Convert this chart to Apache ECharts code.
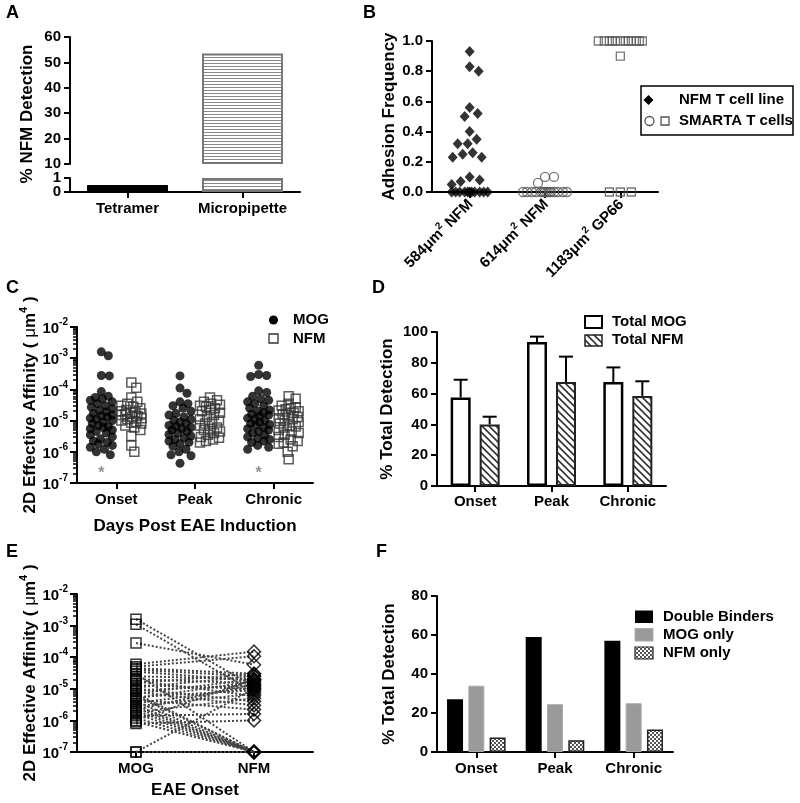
<!DOCTYPE html>
<html><head><meta charset="utf-8">
<script src="https://cdn.jsdelivr.net/npm/echarts@6/dist/echarts.min.js"></script>
<style>html,body{margin:0;padding:0;background:#fff}#c{width:800px;height:803px}</style>
</head><body><div id="c"></div>
<script>
// ---------------- DATA ----------------
const aCats = ['Tetramer', 'Micropipette'];
const aValues = [0.5, 53.5];

const bCats = ['584μm² NFM', '614μm² NFM', '1183μm² GP66'];
const bNFM584 = [0.93, 0.83, 0.80, 0.56, 0.52, 0.50, 0.40, 0.35, 0.32, 0.32, 0.26, 0.25, 0.23, 0.23, 0.10, 0.08, 0.07, 0.05, 0, 0, 0, 0, 0, 0, 0, 0, 0, 0, 0];
const bSmarta614 = [0.10, 0.10, 0.06, 0, 0, 0, 0, 0, 0, 0, 0, 0, 0, 0, 0, 0, 0];
const bSmartaGP66 = [1, 1, 1, 1, 1, 1, 1, 1, 1, 1, 1, 1, 0.9, 0, 0, 0];

const cCats = ['Onset', 'Peak', 'Chronic'];
const cMOGOnset = [1.6e-3, 1.2e-3, 2.8e-4, 2.7e-4, 8.5e-5, 6e-5, 5.5e-5, 5e-5, 4.5e-5, 4e-5, 3.5e-5, 3e-5, 2.7e-5, 2.4e-5, 2.1e-5, 1.9e-5, 1.7e-5, 1.5e-5, 1.4e-5, 1.3e-5, 1.2e-5, 1.1e-5, 1e-5, 9e-6, 8e-6, 7e-6, 6.5e-6, 6e-6, 5.5e-6, 5e-6, 4.5e-6, 4e-6, 3.5e-6, 3e-6, 2.6e-6, 2.2e-6, 2e-6, 1.8e-6, 1.6e-6, 1.4e-6, 1.2e-6, 1e-6, 8e-7];
const cNFMOnset = [1.66e-4, 1.12e-4, 5.5e-5, 4e-5, 3.5e-5, 3e-5, 2.8e-5, 2.5e-5, 2.2e-5, 2e-5, 1.9e-5, 1.8e-5, 1.7e-5, 1.6e-5, 1.5e-5, 1.4e-5, 1.3e-5, 1.2e-5, 1.1e-5, 1e-5, 9e-6, 8.5e-6, 8e-6, 7e-6, 6e-6, 5e-6, 3.2e-6, 1.6e-6, 1e-6];
const cMOGPeak = [2.7e-4, 1.1e-4, 7.5e-5, 4e-5, 3.5e-5, 3e-5, 2.5e-5, 2e-5, 1.7e-5, 1.5e-5, 1.3e-5, 1.1e-5, 1e-5, 9e-6, 8e-6, 7e-6, 6.5e-6, 6e-6, 5.5e-6, 5e-6, 4.5e-6, 4e-6, 3.6e-6, 3.2e-6, 2.8e-6, 2.5e-6, 2.2e-6, 2e-6, 1.8e-6, 1.5e-6, 1.2e-6, 1e-6, 8e-7, 7.5e-7, 4.3e-7];
const cNFMPeak = [5.5e-5, 4.5e-5, 4e-5, 3.5e-5, 3.2e-5, 3e-5, 2.8e-5, 2.5e-5, 2.2e-5, 2e-5, 1.8e-5, 1.5e-5, 1.3e-5, 1.1e-5, 1e-5, 9e-6, 8e-6, 7e-6, 6e-6, 5.5e-6, 5e-6, 4.5e-6, 4e-6, 3.5e-6, 3e-6, 2.8e-6, 2.5e-6, 2.2e-6, 2e-6];
const cMOGChronic = [5.9e-4, 3e-4, 2.8e-4, 2.6e-4, 9e-5, 8e-5, 6e-5, 5e-5, 4.5e-5, 4e-5, 3.5e-5, 3e-5, 2.5e-5, 2.2e-5, 2e-5, 1.8e-5, 1.6e-5, 1.5e-5, 1.4e-5, 1.2e-5, 1.1e-5, 1e-5, 9e-6, 8e-6, 7.5e-6, 7e-6, 6e-6, 5.5e-6, 5e-6, 4.5e-6, 4e-6, 3.5e-6, 3e-6, 2.7e-6, 2.5e-6, 2.2e-6, 2e-6, 1.6e-6, 1.4e-6, 1.2e-6];
const cNFMChronic = [6e-5, 5e-5, 3.5e-5, 3e-5, 2.7e-5, 2.5e-5, 2.3e-5, 2.1e-5, 2e-5, 1.8e-5, 1.6e-5, 1.5e-5, 1.3e-5, 1.2e-5, 1.1e-5, 1e-5, 9e-6, 8e-6, 7e-6, 6.5e-6, 6e-6, 5e-6, 4.5e-6, 4e-6, 3.5e-6, 3e-6, 2.5e-6, 2.2e-6, 2e-6, 1.8e-6, 1.5e-6, 1e-6, 5.8e-7];
const cStarCats = ['Onset', 'Chronic'];
const cStarLevel = 2e-7;

const dCats = ['Onset', 'Peak', 'Chronic'];
const dMOG = [57.5, 93.5, 67.5];
const dMOGErr = [11.5, 3.5, 9.5];
const dNFM = [40, 67.5, 58.5];
const dNFMErr = [5, 16.5, 9.5];

const eCats = ['MOG', 'NFM'];
const eMOG = [1.6e-3, 1.1e-3, 2.8e-4, 6e-5, 5e-5, 4.5e-5, 4e-5, 3.5e-5, 3e-5, 2.5e-5, 2e-5, 1.8e-5, 1.5e-5, 1.3e-5, 1.1e-5, 1e-5, 9e-6, 8e-6, 7e-6, 6e-6, 5.5e-6, 5e-6, 4.5e-6, 4e-6, 3.5e-6, 3e-6, 2.8e-6, 2.5e-6, 2.2e-6, 2e-6, 1.8e-6, 1.6e-6, 1.4e-6, 1.2e-6, 1e-6, 9e-7, 8e-7, 1e-7, 1e-7, 7e-6];
const eNFM = [1.2e-5, 8e-6, 5.8e-5, 1.5e-4, 1.07e-4, 3e-5, 2.5e-5, 1.8e-5, 1e-7, 2e-5, 1.5e-5, 6e-6, 3e-5, 1e-5, 2.5e-5, 4e-6, 1.3e-5, 3e-6, 2e-5, 1e-7, 9e-6, 1.7e-5, 2.2e-6, 1e-7, 1.1e-5, 1e-7, 7e-6, 1e-7, 1.4e-5, 1e-7, 5e-6, 1e-7, 1.6e-6, 1e-7, 2e-5, 1e-7, 1e-6, 1e-5, 1e-7, 1e-7];
const eThreshold = 2e-7;

const fCats = ['Onset', 'Peak', 'Chronic'];
const fDouble = [27, 59, 57];
const fMOGOnly = [34, 24.5, 25];
const fNFMOnly = [7.5, 6, 11.5];

// ---------------- HELPERS ----------------
const FONT = '"Liberation Sans", Arial, Helvetica, sans-serif';
const BOLD15 = 'bold 15px ' + FONT;
const BOLD17 = 'bold 17px ' + FONT;

function pattern(kind) {
  const c = document.createElement('canvas');
  const g = c.getContext('2d');
  if (kind === 'hlines') {
    c.width = 4; c.height = 3;
    g.fillStyle = '#fff'; g.fillRect(0, 0, 4, 3);
    g.fillStyle = '#8a8a8a'; g.fillRect(0, 0, 4, 1);
  } else if (kind === 'diag') {
    c.width = 7; c.height = 7;
    g.fillStyle = '#fff'; g.fillRect(0, 0, 7, 7);
    g.strokeStyle = '#333'; g.lineWidth = 1.6;
    g.beginPath();
    g.moveTo(-1, -1); g.lineTo(8, 8);
    g.moveTo(-1, 6); g.lineTo(1, 8);
    g.moveTo(6, -1); g.lineTo(8, 1);
    g.stroke();
  } else {
    c.width = 4; c.height = 4;
    g.fillStyle = '#fff'; g.fillRect(0, 0, 4, 4);
    g.fillStyle = '#555'; g.fillRect(0, 0, 2, 2); g.fillRect(2, 2, 2, 2);
  }
  return { image: c, repeat: 'repeat' };
}
const PAT_H = pattern('hlines'), PAT_D = pattern('diag'), PAT_C = pattern('checker');

function swarm(vals, toPx, d, maxW) {
  const order = vals.map((v, i) => i).sort((a, b) => toPx(vals[a]) - toPx(vals[b]));
  const placed = []; const off = new Array(vals.length).fill(0);
  for (const i of order) {
    const y = toPx(vals[i]);
    let chosen = null, bestX = 0, bestD = -1;
    for (let s = 0; s <= maxW; s += 1) {
      for (const x of (s === 0 ? [0] : [s, -s])) {
        let md = Infinity;
        for (const q of placed) { const dd = Math.hypot(q.x - x, q.y - y); if (dd < md) md = dd; }
        if (md >= d) { chosen = x; break; }
        if (md > bestD + 0.01) { bestD = md; bestX = x; }
      }
      if (chosen !== null) break;
    }
    const x = chosen !== null ? chosen : bestX;
    placed.push({ x, y }); off[i] = x;
  }
  return off;
}
function swarmData(groups, side, d, maxW, toPx) {
  const out = [];
  groups.forEach((vals, ci) => {
    const off = swarm(vals, toPx, d, maxW);
    vals.forEach((v, i) => out.push({ value: [ci, v], symbolOffset: [side + off[i], 0] }));
  });
  return out;
}

const axisLineS = { show: true, lineStyle: { color: '#000', width: 2 } };
const axisTickS = { show: true, length: 6, lineStyle: { color: '#000', width: 2 } };
const catTick = { show: true, alignWithLabel: true, length: 6, lineStyle: { color: '#000', width: 2 } };
const lblS = { color: '#000', fontFamily: FONT, fontWeight: 'bold', fontSize: 15, interval: 0, hideOverlap: false, showMinLabel: true, showMaxLabel: true };
const nameS = { color: '#000', fontFamily: FONT, fontWeight: 'bold', fontSize: 17 };

const logRich = {
  b: { color: '#000', fontFamily: FONT, fontWeight: 'bold', fontSize: 15, lineHeight: 19, verticalAlign: 'bottom' },
  s: { color: '#000', fontFamily: FONT, fontWeight: 'bold', fontSize: 10, lineHeight: 10, verticalAlign: 'top' }
};
const logFmt = v => '{b|10}{s|' + Math.round(Math.log10(v)) + '}';
const affName = '{t|2D Effective Affinity ( }{u|μ}{t|m}{s|4}{t| )}';
const affRich = {
  t: { color: '#000', fontFamily: FONT, fontWeight: 'bold', fontSize: 17, lineHeight: 20, verticalAlign: 'bottom' },
  u: { color: '#000', fontFamily: FONT, fontWeight: 'normal', fontSize: 17, lineHeight: 20, verticalAlign: 'bottom' },
  s: { color: '#000', fontFamily: FONT, fontWeight: 'bold', fontSize: 11, lineHeight: 11, verticalAlign: 'top' }
};
// minor log ticks on a companion axis (log10 space)
const minorLogTicks = [];
for (let k = -7; k < -2; k++) for (let m = 2; m <= 9; m++) minorLogTicks.push(k + Math.log10(m));

function logAxis(grid, name, gap) {
  return [{
    type: 'log', gridIndex: grid, min: 1e-7, max: 1e-2, logBase: 10, splitNumber: 5,
    axisLine: axisLineS, axisTick: { show: true, length: 7, lineStyle: { color: '#000', width: 2 } },
    splitLine: { show: false },
    axisLabel: { formatter: logFmt, rich: logRich, margin: 9, showMinLabel: true, showMaxLabel: true },
    name: name, nameLocation: 'middle', nameRotate: 90, nameGap: gap,
    nameTextStyle: { rich: affRich }
  }, {
    type: 'value', gridIndex: grid, min: -7, max: -2, position: 'left',
    axisLine: { show: false }, splitLine: { show: false }, axisLabel: { show: false },
    axisTick: { show: true, length: 4, lineStyle: { color: '#000', width: 1.5 }, customValues: minorLogTicks }
  }];
}

// ---------------- CHART ----------------
const chart = echarts.init(document.getElementById('c'), null, { renderer: 'canvas' });

const grids = [
  { left: 70, top: 37, width: 230, height: 127 },   // A upper
  { left: 70, top: 178, width: 230, height: 14 },   // A lower
  { left: 432, top: 41, width: 226, height: 151 },  // B
  { left: 77, top: 327, width: 236, height: 156 },  // C
  { left: 437, top: 332, width: 229, height: 154 }, // D
  { left: 77, top: 594, width: 236, height: 158 },  // E
  { left: 437, top: 596, width: 236, height: 156 }  // F
];

const xAxes = [
  { type: 'category', gridIndex: 0, data: aCats, show: false },
  { type: 'category', gridIndex: 1, data: aCats, axisLine: axisLineS, axisTick: catTick, axisLabel: Object.assign({ margin: 9 }, lblS) },
  { type: 'category', gridIndex: 2, data: bCats, axisLine: axisLineS, axisTick: catTick,
    axisLabel: { rotate: 45, margin: 9, interval: 0, hideOverlap: false,
      formatter: v => '{b|' + v.replace('²', '}{s|2}{b|') + '}',
      rich: { b: { color: '#000', fontFamily: FONT, fontWeight: 'bold', fontSize: 15, lineHeight: 18, verticalAlign: 'bottom' },
              s: { color: '#000', fontFamily: FONT, fontWeight: 'bold', fontSize: 10, lineHeight: 10, verticalAlign: 'top' } } } },
  { type: 'category', gridIndex: 3, data: cCats, axisLine: axisLineS, axisTick: catTick, axisLabel: Object.assign({ margin: 9 }, lblS),
    name: 'Days Post EAE Induction', nameLocation: 'middle', nameGap: 35, nameTextStyle: nameS },
  { type: 'category', gridIndex: 4, data: dCats, axisLine: axisLineS, axisTick: catTick, axisLabel: Object.assign({ margin: 8 }, lblS) },
  { type: 'category', gridIndex: 5, data: eCats, axisLine: axisLineS, axisTick: catTick, axisLabel: Object.assign({ margin: 9 }, lblS),
    name: 'EAE Onset', nameLocation: 'middle', nameGap: 30, nameTextStyle: nameS },
  { type: 'category', gridIndex: 6, data: fCats, axisLine: axisLineS, axisTick: catTick, axisLabel: Object.assign({ margin: 9 }, lblS) }
];

const aLowMin = 0, aLowMax = 1, aUpMin = 10;
const cLog = logAxis(3, affName, 38);
const eLog = logAxis(5, affName, 38);
const yAxes = [
  { type: 'value', gridIndex: 0, min: aUpMin, max: 60, interval: 10, axisLine: axisLineS, axisTick: axisTickS, splitLine: { show: false }, axisLabel: Object.assign({ margin: 9 }, lblS) },
  { type: 'value', gridIndex: 1, min: aLowMin, max: aLowMax, interval: 1, axisLine: axisLineS, axisTick: axisTickS, splitLine: { show: false },
    axisLabel: Object.assign({ margin: 9 }, lblS, { formatter: v => v === aLowMin ? String(v) : '' }) },
  { type: 'value', gridIndex: 2, min: 0, max: 1, interval: 0.2, axisLine: axisLineS, axisTick: axisTickS, splitLine: { show: false },
    axisLabel: Object.assign({ margin: 9, formatter: v => v.toFixed(1) }, lblS),
    name: 'Adhesion Frequency', nameLocation: 'middle', nameRotate: 90, nameGap: 31, nameTextStyle: nameS },
  cLog[0], cLog[1],
  { type: 'value', gridIndex: 4, min: 0, max: 100, interval: 20, axisLine: axisLineS, axisTick: axisTickS, splitLine: { show: false }, axisLabel: Object.assign({ margin: 9 }, lblS),
    name: '% Total Detection', nameLocation: 'middle', nameRotate: 90, nameGap: 41, nameTextStyle: nameS },
  eLog[0], eLog[1],
  { type: 'value', gridIndex: 6, min: 0, max: 80, interval: 20, axisLine: axisLineS, axisTick: axisTickS, splitLine: { show: false }, axisLabel: Object.assign({ margin: 9 }, lblS),
    name: '% Total Detection', nameLocation: 'middle', nameRotate: 90, nameGap: 39, nameTextStyle: nameS },
  // companion axis for the "1" label of panel A's lower segment
  { type: 'value', gridIndex: 1, min: aLowMin, max: aLowMax, interval: 1, position: 'left', axisLine: { show: false }, axisTick: { show: false }, splitLine: { show: false },
    axisLabel: Object.assign({ margin: 9 }, lblS, { formatter: v => v === aLowMax ? String(v) : '' }) }
];
// yAxis indices: 0 A-up,1 A-low,2 B,3 C,4 C-minor,5 D,6 E,7 E-minor,8 F,9 A-low labels

const aStyle = [{ color: '#000', borderColor: '#000', borderWidth: 1 }, { color: PAT_H, borderColor: '#777', borderWidth: 2 }];

const series = [];
// ---- A ----
series.push({ type: 'bar', xAxisIndex: 0, yAxisIndex: 0, stack: 'a', barWidth: 81, silent: true,
  data: aValues.map(v => v > aUpMin ? { value: aUpMin, itemStyle: { color: 'rgba(0,0,0,0)' } } : '-') });
series.push({ type: 'bar', xAxisIndex: 0, yAxisIndex: 0, stack: 'a', barWidth: 81,
  data: aValues.map((v, i) => v > aUpMin ? { value: v - aUpMin, itemStyle: aStyle[i] } : '-') });
series.push({ type: 'bar', xAxisIndex: 1, yAxisIndex: 1, barWidth: 81,
  data: aValues.map((v, i) => ({ value: Math.min(v, aLowMax), itemStyle: aStyle[i] })) });

// ---- B ----
const bPx = v => -v * 151;
series.push({ type: 'scatter', xAxisIndex: 2, yAxisIndex: 2, symbol: 'diamond', symbolSize: [10, 11],
  itemStyle: { color: '#000' }, data: swarmData([bNFM584], 0, 10, 18, bPx) });
series.push({ type: 'scatter', xAxisIndex: 2, yAxisIndex: 2, symbol: 'circle', symbolSize: 9,
  itemStyle: { color: 'rgba(0,0,0,0)', borderColor: '#555', borderWidth: 1.3 },
  data: swarm(bSmarta614, bPx, 9, 22).map((o, i) => ({ value: [1, bSmarta614[i]], symbolOffset: [o, 0] })) });
series.push({ type: 'scatter', xAxisIndex: 2, yAxisIndex: 2, symbol: 'rect', symbolSize: 8,
  itemStyle: { color: 'rgba(255,255,255,0)', borderColor: '#555', borderWidth: 1.3 },
  data: swarm(bSmartaGP66, bPx, 11, 24).map((o, i) => ({ value: [2, bSmartaGP66[i]], symbolOffset: [o, 0] })) });

// ---- C ----
const cPx = v => -Math.log10(v) * 31.2;
series.push({ type: 'scatter', xAxisIndex: 3, yAxisIndex: 3, symbol: 'circle', symbolSize: 9,
  itemStyle: { color: '#000' }, data: swarmData([cMOGOnset, cMOGPeak, cMOGChronic], -15, 8, 11, cPx) });
series.push({ type: 'scatter', xAxisIndex: 3, yAxisIndex: 3, symbol: 'rect', symbolSize: 9,
  itemStyle: { color: 'rgba(0,0,0,0)', borderColor: '#333', borderWidth: 1.5 },
  data: swarmData([cNFMOnset, cNFMPeak, cNFMChronic], 15, 7, 10, cPx) });
series.push({ type: 'scatter', xAxisIndex: 3, yAxisIndex: 3, symbolSize: 1, itemStyle: { color: 'rgba(0,0,0,0)' },
  label: { show: true, formatter: '*', position: 'inside', offset: [-15, 0], color: '#777', fontFamily: FONT, fontWeight: 'bold', fontSize: 16 },
  data: cStarCats.map(c => [c, cStarLevel]) });

// ---- D ----
const dBarW = 20, dGap = 9;
series.push({ type: 'bar', xAxisIndex: 4, yAxisIndex: 5, barWidth: dBarW, barGap: (dGap / dBarW * 100) + '%',
  itemStyle: { color: '#fff', borderColor: '#000', borderWidth: 2.5 }, data: dMOG, z: 3 });
series.push({ type: 'bar', xAxisIndex: 4, yAxisIndex: 5, barWidth: dBarW,
  itemStyle: { color: PAT_D, borderColor: '#222', borderWidth: 2 }, data: dNFM, z: 3 });
function errSeries(means, errs, side) {
  return { type: 'custom', xAxisIndex: 4, yAxisIndex: 5, z: 2,
    data: means.map((m, i) => [i, m, errs[i]]), encode: { x: 0, y: 1 },
    renderItem(p, api) {
      const base = api.coord([api.value(0), api.value(1)]);
      const top = api.coord([api.value(0), api.value(1) + api.value(2)]);
      const x = base[0] + side;
      return { type: 'group', children: [
        { type: 'line', shape: { x1: x, y1: base[1], x2: x, y2: top[1] }, style: { stroke: '#000', lineWidth: 2 } },
        { type: 'line', shape: { x1: x - 7, y1: top[1], x2: x + 7, y2: top[1] }, style: { stroke: '#000', lineWidth: 2 } }
      ] };
    } };
}
series.push(errSeries(dMOG, dMOGErr, -(dBarW + dGap) / 2));
series.push(errSeries(dNFM, dNFMErr, (dBarW + dGap) / 2));

// ---- E ----
series.push({ type: 'custom', xAxisIndex: 5, yAxisIndex: 6,
  data: eMOG.map((m, i) => [0, m, 1, eNFM[i]]), encode: { x: [0, 2], y: [1, 3] },
  renderItem(p, api) {
    const p0 = api.coord([0, api.value(1)]);
    const p1 = api.coord([1, api.value(3)]);
    return { type: 'line', shape: { x1: p0[0], y1: p0[1], x2: p1[0], y2: p1[1] },
      style: { stroke: '#444', lineWidth: 2, lineDash: [2, 2] } };
  } });
series.push({ type: 'scatter', xAxisIndex: 5, yAxisIndex: 6, symbol: 'rect', symbolSize: 10,
  itemStyle: { color: 'rgba(0,0,0,0)', borderColor: '#000', borderWidth: 1.5 },
  data: eMOG.map(v => [0, v]),
  markLine: { silent: true, symbol: 'none', label: { show: false }, lineStyle: { color: '#999', width: 1, type: 'solid' }, data: [{ yAxis: eThreshold }] } });
series.push({ type: 'scatter', xAxisIndex: 5, yAxisIndex: 6, symbol: 'diamond', symbolSize: [13, 13],
  itemStyle: { color: 'rgba(0,0,0,0)', borderColor: '#000', borderWidth: 1.5 },
  data: eNFM.map(v => [1, v]) });

// ---- F ----
const fBarW = 16, fGap = 5.3;
series.push({ type: 'bar', xAxisIndex: 6, yAxisIndex: 8, barWidth: fBarW, barGap: (fGap / fBarW * 100) + '%',
  itemStyle: { color: '#000' }, data: fDouble });
series.push({ type: 'bar', xAxisIndex: 6, yAxisIndex: 8, barWidth: fBarW,
  itemStyle: { color: '#9a9a9a', borderColor: '#aaa', borderWidth: 1 }, data: fMOGOnly });
series.push({ type: 'bar', xAxisIndex: 6, yAxisIndex: 8, barWidth: fBarW,
  itemStyle: { color: PAT_C, borderColor: '#222', borderWidth: 1.5 }, data: fNFMOnly });

// ---------------- GRAPHIC (panel letters, A title, legends) ----------------
function T(text, x, y, font, extra) {
  return Object.assign({ type: 'text', x, y, style: { text, font: font || BOLD15, fill: '#000', textAlign: 'left', textVerticalAlign: 'middle' } }, extra || {});
}
const LET = 'bold 18px ' + FONT;
const graphic = [
  T('A', 6, 13, LET), T('B', 363, 13, LET), T('C', 6, 288, LET), T('D', 372, 288, LET),
  T('E', 6, 552, LET), T('F', 376, 552, LET),
  { type: 'text', x: 27, y: 114, rotation: Math.PI / 2, style: { text: '% NFM Detection', font: BOLD17, fill: '#000', textAlign: 'center', textVerticalAlign: 'middle' } },
  // B legend
  { type: 'rect', shape: { x: 641, y: 86, width: 152, height: 49 }, style: { fill: '#fff', stroke: '#000', lineWidth: 1.5 } },
  { type: 'polygon', shape: { points: [[648.5, 95], [653.5, 100], [648.5, 105], [643.5, 100]] }, style: { fill: '#000' } },
  T('NFM T cell line', 679, 100),
  { type: 'circle', shape: { cx: 649.5, cy: 121, r: 4.5 }, style: { fill: 'none', stroke: '#555', lineWidth: 1.3 } },
  { type: 'rect', shape: { x: 661, y: 117, width: 8, height: 8 }, style: { fill: 'none', stroke: '#555', lineWidth: 1.3 } },
  T('SMARTA T cells', 679, 121),
  // C legend
  { type: 'circle', shape: { cx: 273.5, cy: 320, r: 4.5 }, style: { fill: '#000' } },
  T('MOG', 293, 320),
  { type: 'rect', shape: { x: 269, y: 334, width: 9, height: 9 }, style: { fill: 'none', stroke: '#333', lineWidth: 1.3 } },
  T('NFM', 293, 338.5),
  // D legend
  { type: 'rect', shape: { x: 585, y: 316, width: 17, height: 12 }, style: { fill: '#fff', stroke: '#000', lineWidth: 2 } },
  T('Total MOG', 612, 321.5),
  { type: 'rect', shape: { x: 585, y: 335, width: 17, height: 11 }, style: { fill: PAT_D, stroke: '#222', lineWidth: 1.5 } },
  T('Total NFM', 612, 340),
  // F legend
  { type: 'rect', shape: { x: 635, y: 610.5, width: 18, height: 12.5 }, style: { fill: '#000' } },
  T('Double Binders', 663, 616.5),
  { type: 'rect', shape: { x: 635, y: 628.5, width: 18, height: 12.5 }, style: { fill: '#9a9a9a', stroke: '#aaa', lineWidth: 1 } },
  T('MOG only', 663, 634.7),
  { type: 'rect', shape: { x: 635, y: 647, width: 18, height: 12 }, style: { fill: PAT_C, stroke: '#222', lineWidth: 1.2 } },
  T('NFM only', 663, 653)
];

chart.setOption({
  animation: false,
  backgroundColor: '#fff',
  textStyle: { fontFamily: FONT },
  grid: grids, xAxis: xAxes, yAxis: yAxes, series: series, graphic: graphic
});
</script></body></html>
